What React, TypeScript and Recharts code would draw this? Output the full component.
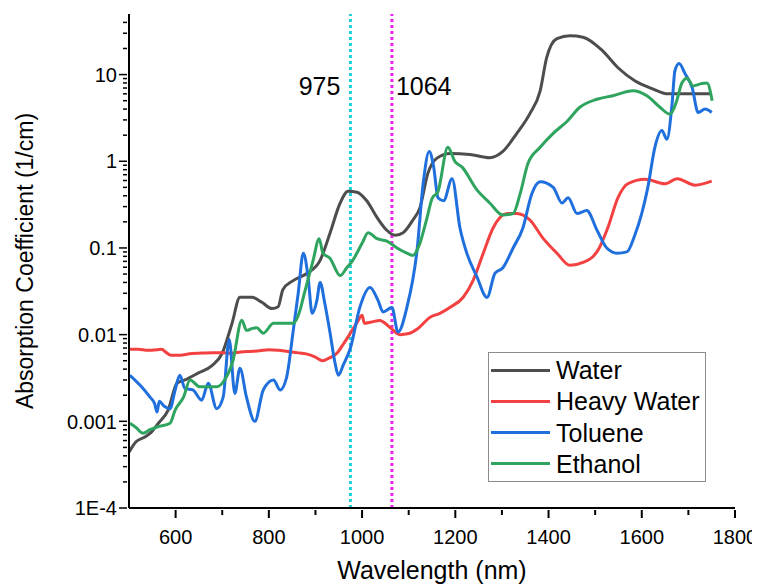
import React from 'react';
import { LineChart, Line, XAxis, YAxis, ReferenceLine, Legend } from 'recharts';

const FONT = '"Liberation Sans", Arial, Helvetica, sans-serif';

// Axis ticks
const xMajorTicks = [600, 800, 1000, 1200, 1400, 1600, 1800];
const xMinorTicks = [700, 900, 1100, 1300, 1500, 1700];
const yMajorTicks = [0.0001, 0.001, 0.01, 0.1, 1, 10];
const yMajorLabels = ['1E-4', '0.001', '0.01', '0.1', '1', '10'];
const yMinorTicks = [
  0.0002, 0.0003, 0.0004, 0.0005, 0.0006, 0.0007, 0.0008, 0.0009,
  0.002, 0.003, 0.004, 0.005, 0.006, 0.007, 0.008, 0.009,
  0.02, 0.03, 0.04, 0.05, 0.06, 0.07, 0.08, 0.09,
  0.2, 0.3, 0.4, 0.5, 0.6, 0.7, 0.8, 0.9,
  2, 3, 4, 5, 6, 7, 8, 9,
  20, 30, 40,
];

// Reference wavelengths
const laserLines = [975, 1064];

// Water
const waterNm = [500, 515, 534, 548, 563, 584, 603, 620, 648, 678, 700, 721, 738, 764, 785, 807, 820, 830, 852, 882, 910, 931, 953, 970, 989, 1010, 1032, 1053, 1071, 1088, 1109, 1124, 1141, 1160, 1189, 1231, 1274, 1302, 1332, 1360, 1382, 1396, 1418, 1446, 1474, 1515, 1549, 1585, 1622, 1656, 1693, 1750];
const waterVal = [0.00044, 0.00058, 0.00066, 0.00075, 0.00095, 0.00135, 0.00275, 0.003, 0.0036, 0.0044, 0.0061, 0.0135, 0.027, 0.027, 0.0236, 0.02, 0.021, 0.033, 0.042, 0.051, 0.072, 0.147, 0.33, 0.45, 0.44, 0.35, 0.225, 0.16, 0.14, 0.15, 0.21, 0.29, 0.72, 1.08, 1.23, 1.2, 1.1, 1.3, 2.1, 3.55, 6.5, 15.7, 26, 28, 27, 19, 12, 8.5, 6.9, 6.0, 6.0, 6.0];

// Heavy water
const heavyNm = [500, 520, 540, 560, 570, 580, 590, 610, 630, 650, 680, 700, 720, 740, 760, 780, 800, 820, 840, 860, 880, 900, 915, 930, 946, 960, 975, 990, 1000, 1005, 1020, 1038, 1060, 1081, 1100, 1120, 1146, 1167, 1189, 1217, 1238, 1260, 1281, 1311, 1332, 1360, 1388, 1418, 1446, 1474, 1506, 1527, 1549, 1570, 1607, 1650, 1676, 1714, 1750];
const heavyVal = [0.0068, 0.0068, 0.0066, 0.0067, 0.0068, 0.0062, 0.0058, 0.0058, 0.006, 0.0061, 0.0062, 0.0062, 0.0061, 0.0063, 0.0064, 0.0065, 0.0067, 0.0066, 0.0064, 0.0062, 0.006, 0.0055, 0.005, 0.0054, 0.0061, 0.0078, 0.0104, 0.014, 0.0167, 0.0135, 0.014, 0.0146, 0.0121, 0.01, 0.0103, 0.0118, 0.0159, 0.0176, 0.0207, 0.027, 0.042, 0.087, 0.17, 0.25, 0.25, 0.21, 0.13, 0.087, 0.063, 0.068, 0.094, 0.17, 0.38, 0.55, 0.62, 0.55, 0.63, 0.53, 0.59];

// Toluene
const tolueneNm = [502, 524, 545, 555, 560, 565, 575, 588, 599, 609, 620, 637, 656, 670, 688, 702, 715, 727, 738, 752, 770, 788, 810, 824, 838, 852, 863, 874, 884, 893, 903, 910, 920, 931, 942, 949, 960, 975, 995, 1017, 1034, 1045, 1064, 1077, 1096, 1118, 1131, 1144, 1153, 1163, 1175, 1193, 1210, 1225, 1246, 1268, 1285, 1302, 1324, 1345, 1364, 1382, 1410, 1429, 1442, 1461, 1482, 1504, 1525, 1547, 1568, 1585, 1600, 1613, 1628, 1643, 1654, 1665, 1671, 1680, 1693, 1708, 1721, 1736, 1750];
const tolueneVal = [0.0034, 0.0026, 0.0019, 0.0016, 0.00128, 0.0017, 0.0015, 0.0014, 0.0023, 0.0034, 0.0024, 0.0023, 0.00175, 0.00275, 0.0014, 0.0019, 0.0088, 0.0021, 0.0041, 0.0019, 0.001, 0.0023, 0.003, 0.0023, 0.0032, 0.0108, 0.03, 0.087, 0.047, 0.0176, 0.0247, 0.04, 0.023, 0.0107, 0.0047, 0.0034, 0.0045, 0.007, 0.0205, 0.035, 0.025, 0.0183, 0.0205, 0.0107, 0.0205, 0.095, 0.55, 1.3, 0.9, 0.38, 0.35, 0.63, 0.17, 0.086, 0.047, 0.0268, 0.051, 0.059, 0.1, 0.17, 0.42, 0.58, 0.5, 0.33, 0.38, 0.25, 0.27, 0.16, 0.1, 0.087, 0.09, 0.14, 0.25, 0.5, 1.44, 2.26, 1.8, 4.6, 11, 13.4, 10.2, 7.1, 3.65, 4.0, 3.65];

// Ethanol
const ethanolNm = [502, 515, 530, 545, 560, 588, 599, 617, 631, 652, 688, 705, 723, 742, 752, 765, 774, 788, 810, 852, 867, 874, 895, 908, 916, 931, 953, 967, 980, 1000, 1013, 1032, 1053, 1075, 1096, 1109, 1124, 1139, 1150, 1163, 1184, 1199, 1215, 1246, 1274, 1302, 1324, 1339, 1356, 1382, 1410, 1440, 1467, 1504, 1538, 1581, 1611, 1639, 1660, 1675, 1686, 1697, 1710, 1729, 1740, 1751];
const ethanolVal = [0.00095, 0.00085, 0.00073, 0.0008, 0.00086, 0.00095, 0.00135, 0.0019, 0.003, 0.0025, 0.0025, 0.003, 0.005, 0.0147, 0.0112, 0.0118, 0.012, 0.0104, 0.0135, 0.0135, 0.0192, 0.027, 0.072, 0.128, 0.087, 0.076, 0.048, 0.059, 0.072, 0.113, 0.15, 0.128, 0.12, 0.1, 0.087, 0.082, 0.113, 0.22, 0.37, 0.45, 1.45, 1.0, 0.85, 0.47, 0.33, 0.24, 0.25, 0.42, 0.95, 1.45, 2.1, 2.9, 4.2, 5.2, 5.7, 6.5, 5.7, 4.2, 3.5, 5.0, 8.0, 9.1, 7.4, 7.9, 8.0, 5.0];

const mk = (xs: number[], ys: number[]) => xs.map((x, i) => ({ x, y: ys[i] }));

const series = [
  { name: 'Water', color: '#4d4d4d', data: mk(waterNm, waterVal) },
  { name: 'Heavy Water', color: '#f34141', data: mk(heavyNm, heavyVal) },
  { name: 'Toluene', color: '#1f6fdd', data: mk(tolueneNm, tolueneVal) },
  { name: 'Ethanol', color: '#2ea45f', data: mk(ethanolNm, ethanolVal) },
];

const XTick = (props: any) => {
  const { x, y, payload } = props;
  const major = xMajorTicks.includes(payload.value);
  return (
    <g>
      <line x1={x} x2={x} y1={y} y2={y + (major ? 8 : 5)} stroke="#000" strokeWidth={2} />
      {major && (
        <text x={x} y={y + 34} textAnchor="middle" fontSize={20} fontFamily={FONT} fill="#000">
          {payload.value}
        </text>
      )}
    </g>
  );
};

const YTick = (props: any) => {
  const { x, y, payload } = props;
  const idx = yMajorTicks.findIndex((t) => Math.abs(t - payload.value) / t < 1e-6);
  const major = idx >= 0;
  return (
    <g>
      <line x1={x} x2={x - (major ? 8 : 4)} y1={y} y2={y} stroke="#000" strokeWidth={1.5} />
      {major && (
        <text x={x - 10} y={y} dy="0.36em" textAnchor="end" fontSize={20} fontFamily={FONT} fill="#000">
          {yMajorLabels[idx]}
        </text>
      )}
    </g>
  );
};

const LegendBox = () => (
  <div
    style={{
      position: 'relative',
      width: 218,
      height: 130,
      boxSizing: 'border-box',
      border: '1px solid #8c8c8c',
      background: '#fff',
      fontFamily: FONT,
      fontSize: 25,
      color: '#000',
    }}
  >
    {series.map((s, i) => {
      const cy = 17 + i * 31.3;
      return (
        <React.Fragment key={s.name}>
          <div style={{ position: 'absolute', left: 2, top: cy - 1.5, width: 59, height: 3, background: s.color }} />
          <div style={{ position: 'absolute', left: 67, top: cy - 15, height: 30, lineHeight: '30px', whiteSpace: 'nowrap' }}>
            {s.name}
          </div>
        </React.Fragment>
      );
    })}
  </div>
);

export default function App() {
  const xTicks = [...xMajorTicks, ...xMinorTicks].sort((a, b) => a - b);
  const yTicks = [...yMajorTicks, ...yMinorTicks].sort((a, b) => a - b);
  return (
    <div style={{ width: 752, height: 577, fontFamily: FONT }}>
      <LineChart width={752} height={577} margin={{ top: 6, right: 25, left: 0, bottom: 0 }}>
        <XAxis
          type="number"
          dataKey="x"
          domain={[500, 1800]}
          allowDataOverflow
          ticks={xTicks}
          interval={0}
          tickSize={0}
          tickLine={false}
          tick={<XTick />}
          axisLine={{ stroke: '#000', strokeWidth: 2 }}
          height={77}
          label={{ value: 'Wavelength (nm)', position: 'insideBottom', offset: 6, fontSize: 25, fill: '#000', fontFamily: FONT }}
        />
        <YAxis
          type="number"
          scale="log"
          domain={[0.0001, 50]}
          allowDataOverflow
          ticks={yTicks}
          interval={0}
          tickSize={0}
          tickLine={false}
          tick={<YTick />}
          axisLine={{ stroke: '#000', strokeWidth: 2 }}
          width={121}
          label={(p: any) => {
            const vb = p.viewBox || {};
            const cx = 25;
            const cy = (vb.y ?? 6) + (vb.height ?? 494) / 2;
            return (
              <text x={cx} y={cy} transform={`rotate(-90, ${cx}, ${cy})`} textAnchor="middle" fontSize={23} fontFamily={FONT} fill="#000">
                Absorption Coefficient (1/cm)
              </text>
            );
          }}
        />
        <ReferenceLine
          x={laserLines[0]}
          stroke="#1cd2d6"
          strokeWidth={3}
          strokeDasharray="3 3"
          label={(p: any) => {
            const vb = p.viewBox || {};
            return (
              <text x={vb.x - 10} y={87} textAnchor="end" fontSize={25} fontFamily={FONT} fill="#000">
                {String(laserLines[0])}
              </text>
            );
          }}
        />
        <ReferenceLine
          x={laserLines[1]}
          stroke="#ee22ee"
          strokeWidth={3}
          strokeDasharray="3 3"
          label={(p: any) => {
            const vb = p.viewBox || {};
            return (
              <text x={vb.x + 4} y={87} textAnchor="start" fontSize={25} fontFamily={FONT} fill="#000">
                {String(laserLines[1])}
              </text>
            );
          }}
        />
        {series.map((s) => (
          <Line
            key={s.name}
            data={s.data}
            dataKey="y"
            name={s.name}
            type="monotone"
            stroke={s.color}
            strokeWidth={3}
            dot={false}
            activeDot={false}
            isAnimationActive={false}
          />
        ))}
        <Legend
          layout="horizontal"
          verticalAlign="middle"
          align="center"
          content={<LegendBox />}
          wrapperStyle={{ left: 480, top: 344, width: 218, height: 130 }}
        />
      </LineChart>
    </div>
  );
}
